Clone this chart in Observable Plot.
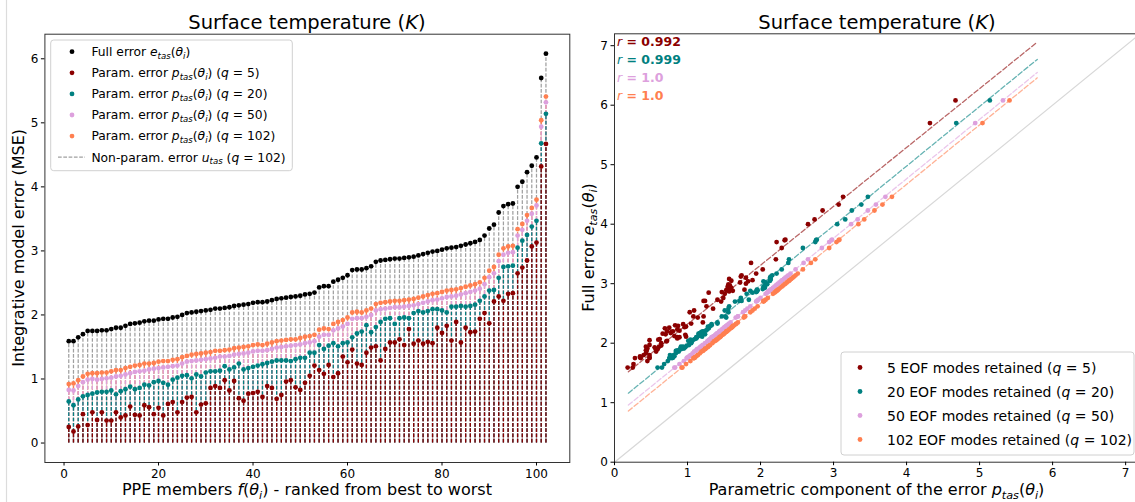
<!DOCTYPE html>
<html><head><meta charset="utf-8">
<script src="https://cdn.jsdelivr.net/npm/d3@7"></script>
<script src="https://cdn.jsdelivr.net/npm/@observablehq/plot@0.6"></script>
<style>
html,body{margin:0;padding:0;background:#fff;}
#fig{position:relative;width:1135px;height:502px;overflow:hidden;font-family:"DejaVu Sans",sans-serif;}
#fig svg{position:absolute;top:0;}
#fig text{white-space:pre;}
</style></head><body><div id="fig"></div>
<script>
// ---------------- data ----------------
const members = d3.range(1, 103);
const fullError = [1.59,1.59,1.65,1.70,1.75,1.75,1.75,1.76,1.76,1.78,
1.80,1.80,1.83,1.86,1.87,1.88,1.90,1.91,1.91,1.93,
1.94,1.94,1.96,1.97,2.00,2.03,2.04,2.05,2.06,2.07,
2.08,2.10,2.10,2.11,2.12,2.14,2.15,2.16,2.17,2.19,
2.20,2.20,2.21,2.23,2.25,2.26,2.27,2.28,2.29,2.30,
2.32,2.33,2.35,2.43,2.45,2.45,2.52,2.55,2.58,2.62,
2.70,2.71,2.71,2.73,2.76,2.83,2.85,2.86,2.87,2.88,
2.88,2.89,2.90,2.91,2.93,2.95,2.97,2.99,3.00,3.02,
3.04,3.05,3.06,3.08,3.10,3.12,3.14,3.17,3.24,3.35,
3.41,3.60,3.70,3.73,3.74,4.00,4.08,4.23,4.33,4.46,
5.70,6.08];
const paramQ5 = [0.25,0.18,0.26,0.45,0.28,0.48,0.36,0.48,0.35,0.35,
0.48,0.40,0.43,0.57,0.44,0.43,0.59,0.56,0.45,0.55,
0.43,0.61,0.64,0.48,0.64,0.71,0.72,0.48,0.60,0.62,
0.86,0.89,0.86,0.98,0.82,0.97,0.70,0.66,0.77,0.78,
0.80,0.72,0.89,0.86,0.69,0.75,0.96,0.98,0.87,0.83,
0.94,1.05,1.21,1.14,1.08,1.22,1.03,1.09,1.35,1.26,
1.46,1.24,1.22,1.41,1.49,1.51,1.29,1.47,1.57,1.57,
1.62,1.53,1.78,1.55,1.60,1.55,1.58,1.56,1.80,1.72,
1.83,1.60,1.89,1.57,1.80,1.73,1.74,1.94,2.03,1.87,
2.21,2.29,2.22,2.33,2.34,2.65,2.74,2.85,3.07,3.13,
4.32,4.67];
const paramQ20 = [0.65,0.59,0.68,0.73,0.75,0.77,0.79,0.80,0.80,0.82,
0.76,0.81,0.84,0.88,0.84,0.86,0.91,0.90,0.95,0.97,
0.94,0.91,0.99,1.02,1.05,1.06,1.01,1.07,1.04,1.10,
1.12,1.12,1.13,1.20,1.15,1.18,1.24,1.15,1.17,1.19,
1.21,1.23,1.25,1.27,1.29,1.29,1.29,1.28,1.31,1.33,
1.33,1.41,1.41,1.53,1.47,1.52,1.56,1.51,1.56,1.57,
1.65,1.71,1.74,1.84,1.73,1.81,1.89,1.94,1.95,1.86,
1.95,1.96,1.95,2.03,2.06,2.04,2.06,2.09,2.09,2.07,
2.04,2.13,2.13,2.14,2.13,2.14,2.16,2.22,2.29,2.38,
2.39,2.58,2.75,2.76,2.77,3.05,3.16,3.25,3.38,3.47,
4.68,5.14];
const paramQ50 = [0.83,0.82,0.89,0.95,0.99,1.00,0.99,1.00,1.01,1.02,
1.04,1.05,1.07,1.09,1.11,1.12,1.13,1.15,1.16,1.17,
1.18,1.19,1.20,1.21,1.24,1.27,1.28,1.29,1.30,1.31,
1.32,1.33,1.35,1.35,1.36,1.38,1.39,1.40,1.41,1.43,
1.44,1.44,1.45,1.47,1.49,1.50,1.51,1.52,1.53,1.54,
1.56,1.57,1.59,1.66,1.69,1.69,1.76,1.79,1.82,1.86,
1.94,1.95,1.95,1.97,2.00,2.07,2.09,2.10,2.11,2.12,
2.12,2.13,2.14,2.15,2.17,2.19,2.21,2.23,2.24,2.26,
2.28,2.29,2.30,2.32,2.34,2.36,2.38,2.41,2.48,2.59,
2.65,2.84,2.94,2.97,2.98,3.24,3.33,3.47,3.58,3.71,
4.94,5.32];
const paramQ102 = [0.92,0.93,0.98,1.04,1.08,1.09,1.09,1.10,1.10,1.12,
1.14,1.14,1.17,1.19,1.21,1.22,1.24,1.24,1.25,1.27,
1.28,1.28,1.30,1.31,1.34,1.36,1.38,1.39,1.40,1.41,
1.42,1.44,1.44,1.45,1.46,1.48,1.49,1.50,1.51,1.53,
1.54,1.53,1.55,1.57,1.59,1.60,1.61,1.62,1.62,1.64,
1.66,1.67,1.69,1.77,1.79,1.78,1.86,1.89,1.92,1.96,
2.04,2.05,2.04,2.07,2.10,2.17,2.19,2.20,2.21,2.22,
2.22,2.23,2.24,2.25,2.27,2.29,2.31,2.33,2.34,2.36,
2.38,2.39,2.40,2.42,2.44,2.46,2.48,2.51,2.58,2.69,
2.75,2.94,3.04,3.07,3.08,3.34,3.42,3.56,3.67,3.80,
5.04,5.41];
const qLevels = [5, 20, 50, 102];
const rValues = ["0.992", "0.999", "1.0", "1.0"];
const fitX = [0.19, 5.79];
const fitY = [[1.52, 7.06], [1.16, 6.77], [0.96, 6.55], [0.86, 6.46]];
const diagonal = [0, 7.2];
const xTicksLeft = [0, 20, 40, 60, 80, 100];
const yTicksLeft = [0, 1, 2, 3, 4, 5, 6];
const ticksRight = [0, 1, 2, 3, 4, 5, 6, 7];

// ---------------- styles ----------------
const C = {black:"#000000", q5:"#8b0000", q20:"#008080", q50:"#dda0dd", q102:"#ff7f50", gray:"#a0a0a0"};
const qColors = [C.q5, C.q20, C.q50, C.q102];
const params = [paramQ5, paramQ20, paramQ50, paramQ102];
const FONT = "DejaVu Sans";
const rows = members.map((m, i) => ({m, e: fullError[i], p5: paramQ5[i], p20: paramQ20[i], p50: paramQ50[i], p102: paramQ102[i]}));

const stem = (key, color) => Plot.ruleX(rows, {x: "m", y1: 0, y2: key, stroke: color, strokeWidth: 1.25, strokeDasharray: "3.7,1.6"});
const dotsL = (key, color) => Plot.dot(rows, {x: "m", y: key, r: 2.4, fill: color});

const left = Plot.plot({
  width: 580, height: 502,
  marginLeft: 44.4, marginRight: 10.7, marginTop: 33.7, marginBottom: 40,
  x: {domain: [-4.05, 107.05]},
  y: {domain: [-0.304, 6.384]},
  style: {fontFamily: FONT, fontSize: "12px", color: "#000", background: "transparent", overflow: "visible"},
  marks: [
    stem("e", C.gray), stem("p102", C.q102), stem("p50", C.q50), stem("p20", C.q20), stem("p5", C.q5),
    dotsL("e", C.black), dotsL("p102", C.q102), dotsL("p50", C.q50), dotsL("p20", C.q20), dotsL("p5", C.q5),
    Plot.frame({stroke: "#333", strokeWidth: 1}),
    Plot.axisX({ticks: xTicksLeft, tickSize: 3.5, tickPadding: 3, label: null, tickFormat: d => d, fontSize: 12}),
    Plot.axisY({ticks: yTicksLeft, tickSize: 3.5, tickPadding: 3, label: null, tickFormat: d => d, fontSize: 12})
  ]
});
left.style.left = "0px";

const scatterRows = [];
qLevels.forEach((q, k) => members.forEach((m, i) => scatterRows.push({q, k, p: params[k][i], e: fullError[i]})));
const fitRows = [];
qLevels.forEach((q, k) => fitX.forEach((x, j) => fitRows.push({q, k, x, y: fitY[k][j]})));
const diagRows = diagonal.map(v => ({x: v, y: v}));

const right = Plot.plot({
  width: 580, height: 502,
  marginLeft: 34, marginRight: 21, marginTop: 33.3, marginBottom: 40.3,
  x: {domain: [0, 7.19]},
  y: {domain: [0, 7.2]},
  style: {fontFamily: FONT, fontSize: "12px", color: "#000", background: "transparent", overflow: "visible"},
  marks: [
    Plot.line(diagRows, {x: "x", y: "y", stroke: "#d8d8d8", strokeWidth: 1.2}),
    ...qLevels.map((q, k) => Plot.line(fitRows.filter(d => d.k === k), {x: "x", y: "y", stroke: qColors[k], strokeOpacity: 0.6, strokeWidth: 1.3, strokeDasharray: "5,2.4"})),
    ...qLevels.map((q, k) => Plot.dot(scatterRows.filter(d => d.k === k), {x: "p", y: "e", r: 2.4, fill: qColors[k]})),
    Plot.frame({stroke: "#333", strokeWidth: 1}),
    Plot.axisX({ticks: ticksRight, tickSize: 3.5, tickPadding: 3, label: null, tickFormat: d => d, fontSize: 12}),
    Plot.axisY({ticks: ticksRight, tickSize: 3.5, tickPadding: 3, label: null, tickFormat: d => d, fontSize: 12})
  ]
});
right.style.left = "580px";

const fig = document.getElementById("fig");
fig.appendChild(left);
fig.appendChild(right);

// ---------------- text overlay ----------------
const ov = d3.select(fig).append("svg").attr("width", 1135).attr("height", 502)
  .style("left", "0px").style("pointer-events", "none").attr("font-family", FONT);

ov.append("line").attr("x1", 6.5).attr("x2", 6.5).attr("y1", 0).attr("y2", 502).attr("stroke", "#dcdcdc").attr("stroke-width", 1.2);

function mtext(x, y, parts, {size, anchor = "start", rotate = null, fill = "#000", weight = "normal"}) {
  const t = ov.append("text").attr("x", x).attr("y", y).attr("font-size", size)
    .attr("text-anchor", anchor).attr("fill", fill).attr("font-weight", weight);
  if (rotate !== null) t.attr("transform", `rotate(${rotate},${x},${y})`);
  let shift = 0;
  for (const p of parts) {
    const s = t.append("tspan").text(p.t);
    if (p.i) s.attr("font-style", "italic");
    if (p.b) s.attr("font-weight", "bold");
    if (p.n) s.attr("font-weight", "normal");
    const target = p.sub ? size * 0.22 : 0;
    if (target !== shift) { s.attr("dy", target - shift); shift = target; }
    if (p.sub) s.attr("font-size", size * 0.7);
  }
  return t;
}
const theta = [{t: "("}, {t: "θ", i: true}, {t: "i", i: true, sub: true}, {t: ")"}];

// titles
mtext(306.9, 29.3, [{t: "Surface temperature ("}, {t: "K", i: true}, {t: ")"}], {size: 19.5, anchor: "middle"});
mtext(877, 29.3, [{t: "Surface temperature ("}, {t: "K", i: true}, {t: ")"}], {size: 19.5, anchor: "middle"});

// axis labels
mtext(306.9, 495, [{t: "PPE members "}, {t: "f", i: true}, ...theta, {t: " - ranked from best to worst"}], {size: 16, anchor: "middle"});
mtext(24, 247.9, [{t: "Integrative model error (MSE)"}], {size: 16, anchor: "middle", rotate: -90});
mtext(876.5, 495, [{t: "Parametric component of the error "}, {t: "p", i: true}, {t: "tas", i: true, sub: true}, ...theta], {size: 16, anchor: "middle"});
mtext(593.5, 247.5, [{t: "Full error "}, {t: "e", i: true}, {t: "tas", i: true, sub: true}, ...theta], {size: 16, anchor: "middle", rotate: -90});

// left legend
ov.append("rect").attr("x", 50.7).attr("y", 40).attr("width", 241.6).attr("height", 130.7)
  .attr("rx", 3).attr("fill", "#fff").attr("fill-opacity", 0.8).attr("stroke", "#d0d0d0");
const legL = [
  {c: C.black, parts: [{t: "Full error "}, {t: "e", i: true}, {t: "tas", i: true, sub: true}, ...theta]},
  ...qLevels.map((q, k) => ({c: qColors[k], parts: [{t: "Param. error "}, {t: "p", i: true}, {t: "tas", i: true, sub: true}, ...theta, {t: " ("}, {t: "q", i: true}, {t: " = " + q + ")"}]})),
  {c: null, parts: [{t: "Non-param. error "}, {t: "u", i: true}, {t: "tas", i: true, sub: true}, {t: " ("}, {t: "q", i: true}, {t: " = 102)"}]}
];
legL.forEach((d, k) => {
  const cy = 51.7 + 21.1 * k;
  if (d.c) ov.append("circle").attr("cx", 72).attr("cy", cy).attr("r", 2.4).attr("fill", d.c);
  else ov.append("line").attr("x1", 58).attr("x2", 85).attr("y1", cy).attr("y2", cy)
    .attr("stroke", C.gray).attr("stroke-width", 1.25).attr("stroke-dasharray", "3.7,1.6");
  mtext(91.4, cy + 4.3, d.parts, {size: 12.3});
});

// right legend
ov.append("rect").attr("x", 841).attr("y", 352).attr("width", 293).attr("height", 103)
  .attr("rx", 3).attr("fill", "#fff").attr("fill-opacity", 0.8).attr("stroke", "#d0d0d0");
qLevels.forEach((q, k) => {
  const cy = 367.5 + 24 * k;
  ov.append("circle").attr("cx", 860).attr("cy", cy).attr("r", 2.4).attr("fill", qColors[k]);
  mtext(887, cy + 5, [{t: q + " EOF modes retained ("}, {t: "q", i: true}, {t: " = " + q + ")"}], {size: 14});
});

// correlation labels
rValues.forEach((r, k) => {
  mtext(617, 46 + 18 * k, [{t: "r", i: true, n: true}, {t: " = ", b: true}, {t: r, b: true}], {size: 12.5, fill: qColors[k], weight: "bold"});
});
</script>
</body></html>
